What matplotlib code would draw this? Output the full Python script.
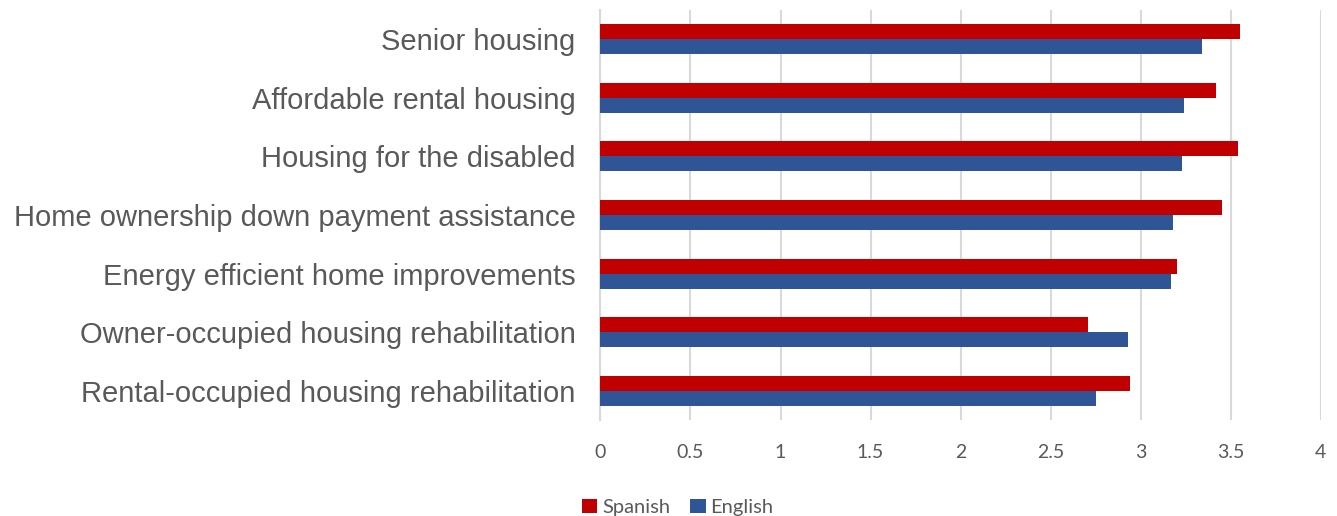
import numpy as np
import matplotlib.pyplot as plt

categories = ["Senior housing", "Affordable rental housing", "Housing for the disabled",
              "Home ownership down payment assistance", "Energy efficient home improvements",
              "Owner-occupied housing rehabilitation", "Rental-occupied housing rehabilitation"]
spanish = [3.55, 3.42, 3.54, 3.45, 3.20, 2.71, 2.94]
english = [3.34, 3.24, 3.23, 3.18, 3.17, 2.93, 2.75]
xticks = [0, 0.5, 1, 1.5, 2, 2.5, 3, 3.5, 4]

fig = plt.figure(figsize=(13.37, 5.16), dpi=100)
ax = fig.add_axes([0.4491, 0.186, 0.5387, 0.7946])

y = np.arange(len(categories))
h = 0.256
ax.barh(y - h / 2, spanish, height=h, color="#C00000", label="Spanish", zorder=3)
ax.barh(y + h / 2, english, height=h, color="#2F5597", label="English", zorder=3)

ax.set_ylim(len(categories) - 0.5, -0.5)
ax.set_xlim(0, 4)
ax.set_xticks(xticks)
ax.set_xticklabels([("%g" % t) for t in xticks], fontsize=14, color="#595959", family="Lato")
ax.set_yticks(y)
ax.set_yticklabels(categories, fontsize=21, color="#595959", family="Liberation Sans")
ax.tick_params(axis="both", length=0)
ax.tick_params(axis="x", pad=17)
ax.tick_params(axis="y", pad=18)

ax.grid(axis="x", color="#D9D9D9", linewidth=1.5, zorder=0)
for s in ["top", "right", "bottom"]:
    ax.spines[s].set_visible(False)
ax.spines["left"].set_color("#D9D9D9")
ax.spines["left"].set_linewidth(1.5)

fig.legend(loc="lower center", bbox_to_anchor=(0.507, -0.035), ncol=2, frameon=False,
           prop={"family": "Lato", "size": 14.5}, handlelength=0.75, handleheight=0.75,
           handletextpad=0.25, columnspacing=1.0, labelcolor="#595959")

fig.savefig("out.png", dpi=100)
